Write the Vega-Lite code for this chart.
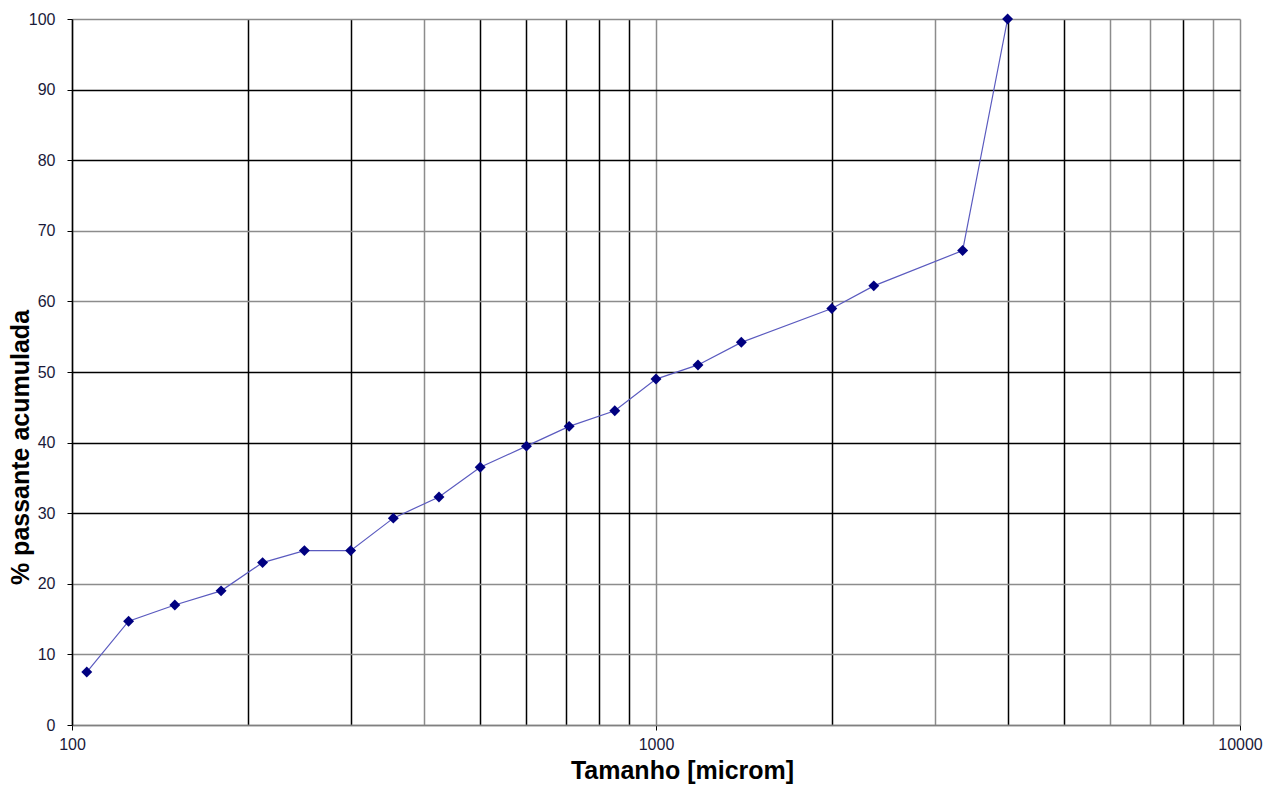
{
  "$schema": "https://vega.github.io/schema/vega-lite/v6.json",
  "width": 1168,
  "height": 706,
  "autosize": "none",
  "padding": {"left": 72, "top": 19, "right": 30, "bottom": 60},
  "background": "white",
  "config": {
    "font": "Liberation Sans",
    "view": {"stroke": null}
  },
  "data": {
    "values": [
      {"size": 106, "pct": 7.5},
      {"size": 125, "pct": 14.7},
      {"size": 150, "pct": 17.0},
      {"size": 180, "pct": 19.0},
      {"size": 212, "pct": 23.0},
      {"size": 250, "pct": 24.7},
      {"size": 300, "pct": 24.7},
      {"size": 355, "pct": 29.3},
      {"size": 425, "pct": 32.3},
      {"size": 500, "pct": 36.5},
      {"size": 600, "pct": 39.5},
      {"size": 710, "pct": 42.3},
      {"size": 850, "pct": 44.5},
      {"size": 1000, "pct": 49.0},
      {"size": 1180, "pct": 51.0},
      {"size": 1400, "pct": 54.2},
      {"size": 2000, "pct": 59.0},
      {"size": 2360, "pct": 62.2},
      {"size": 3350, "pct": 67.2},
      {"size": 4000, "pct": 100.0}
    ]
  },
  "encoding": {
    "x": {
      "field": "size",
      "type": "quantitative",
      "scale": {"type": "log", "domain": [100, 10000], "nice": false},
      "axis": {
        "title": "Tamanho [microm]",
        "titleFont": "Liberation Sans",
        "titleFontSize": 25,
        "titleFontWeight": "bold",
        "titleColor": "#000",
        "titlePadding": 6,
        "titleX": 610,
        "values": [100, 200, 300, 400, 500, 600, 700, 800, 900, 1000, 2000, 3000, 4000, 5000, 6000, 7000, 8000, 9000, 10000],
        "labelExpr": "indexof([100,1000,10000], datum.value) >= 0 ? datum.value : ''",
        "labelFontSize": 16,
        "labelColor": "#1a1a3a",
        "labelPadding": 6,
        "labelFlush": false,
        "labelOverlap": false,
        "tickSize": 5,
        "tickColor": {"condition": {"test": "indexof([100,1000,10000], datum.value) >= 0", "value": "#000"}, "value": "transparent"},
        "domain": true,
        "domainColor": "#808080",
        "domainWidth": 1.5,
        "grid": true,
        "gridColor": {"condition": {"test": "indexof([200,300,500,600,700,800,900,2000,4000,5000,8000], datum.value) >= 0", "value": "#000"}, "value": "#8c8c8c"},
        "gridWidth": 1.5,
        "gridOpacity": 1
      }
    },
    "y": {
      "field": "pct",
      "type": "quantitative",
      "scale": {"domain": [0, 100], "nice": false},
      "axis": {
        "title": "% passante acumulada",
        "titleFont": "Liberation Sans",
        "titleFontSize": 25,
        "titleFontWeight": "bold",
        "titleColor": "#000",
        "titlePadding": -5,
        "titleY": 428,
        "values": [0, 10, 20, 30, 40, 50, 60, 70, 80, 90, 100],
        "labelFontSize": 16,
        "labelColor": "#1a1a3a",
        "labelPadding": 12,
        "tickSize": 5,
        "tickColor": "#000",
        "domain": true,
        "domainColor": "#000",
        "domainWidth": 1.5,
        "grid": true,
        "gridColor": {"condition": {"test": "indexof([30,40,50,80,90], datum.value) >= 0", "value": "#000"}, "value": "#8c8c8c"},
        "gridWidth": 1.5,
        "gridOpacity": 1
      }
    }
  },
  "layer": [
    {
      "mark": {"type": "line", "color": "#5a5abf", "strokeWidth": 1.2}
    },
    {
      "mark": {"type": "point", "shape": "diamond", "filled": true, "color": "#000080", "size": 120, "opacity": 1}
    }
  ]
}
